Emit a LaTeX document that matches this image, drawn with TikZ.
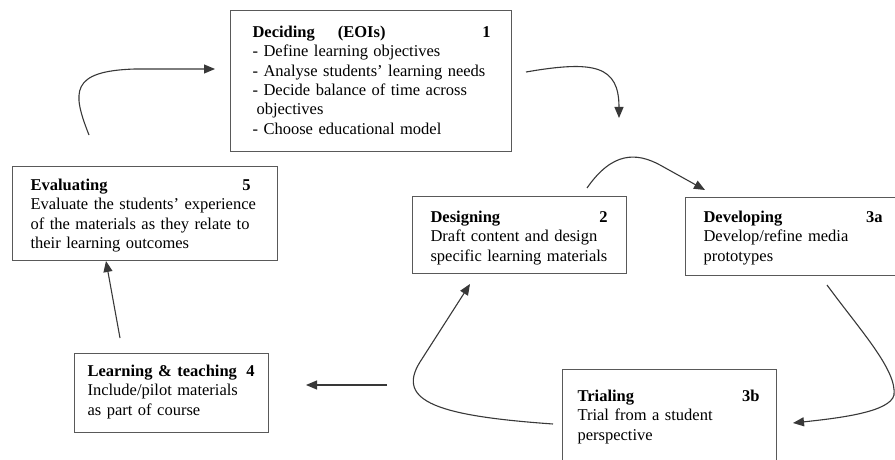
\documentclass[tikz,border=0pt]{standalone}
\usepackage{fontspec}
\setmainfont{Liberation Serif}
\usetikzlibrary{calc,arrows.meta,positioning}

\begin{document}
\begin{tikzpicture}[x=1pt,y=-1pt,
  stage/.style={draw=black!65,line width=1.1pt,anchor=north west,align=left,inner sep=0pt,font=\fontsize{16.5}{19.3}\selectfont},
  flow/.style={draw=black!78,line width=1.1pt,-{Triangle[length=11pt,width=9pt]}}]

  \clip (0,0) rectangle (895,460);

  % Stages
  \path (230,10)  node[stage,text width=281pt,text height=27pt,text depth=114pt] (deciding)
    {\leftskip=22pt\relax
     \textbf{Deciding}\hspace{23pt}\textbf{(EOIs)}\hfill\textbf{1}\hspace{21pt}\null\\
     - Define learning objectives\\
     - Analyse students' learning needs\\
     - Decide balance of time across\\
     \hspace*{4pt}objectives\\
     - Choose educational model\par};
  \path (12,166)  node[stage,text width=265pt,text height=24pt,text depth=70pt] (evaluating)
    {\leftskip=18pt\relax
     \textbf{Evaluating}\hfill\textbf{5}\hspace{27pt}\null\\
     Evaluate the students' experience\\
     of the materials as they relate to\\
     their learning outcomes\par};
  \path (412,196) node[stage,text width=214pt,text height=26pt,text depth=51pt] (designing)
    {\leftskip=18pt\relax
     \textbf{Designing}\hfill\textbf{2}\hspace{19pt}\null\\
     Draft content and design\\
     specific learning materials\par};
  \path (685,197) node[stage,text width=215pt,text height=25pt,text depth=53pt] (developing)
    {\leftskip=18pt\relax
     \textbf{Developing}\hfill\textbf{3a}\hspace{18pt}\null\\
     Develop/refine media\\
     prototypes\par};
  \path (562,369) node[stage,text width=214pt,text height=32pt,text depth=80pt] (trialing)
    {\leftskip=15pt\relax
     \textbf{Trialing}\hfill\textbf{3b}\hspace{17pt}\null\\
     Trial from a student\\
     perspective\par};
  \path (74,353)  node[stage,text width=194pt,text height=23pt,text depth=56pt] (learning)
    {\leftskip=13pt\relax
     \textbf{Learning \& teaching}\hfill\textbf{4}\hspace{14pt}\null\\
     Include/pilot materials\\
     as part of course\par};

  % Free ends of the cycle arrows
  \coordinate (eval-out)  at (89,135);
  \coordinate (dec-in)    at (215,69);
  \coordinate (dec-out)   at (526,72);
  \coordinate (dec-tip)   at (619,118);
  \coordinate (des-out)   at (587,188);
  \coordinate (dev-in)    at (705,190);
  \coordinate (dev-out)   at (827,285);
  \coordinate (tri-in)    at (793,423);
  \coordinate (tri-out)   at (553,424);
  \coordinate (des-in)    at (470,284);
  \coordinate (learn-tail) at (387,385);
  \coordinate (learn-in)  at (306,385);
  \coordinate (learn-out) at (120,338);
  \coordinate (eval-in)   at (106,261);

  % Cycle
  \draw[flow] (eval-out) .. controls (72,92) and (70,71) .. (135,69) -- (dec-in);
  \draw[flow] (dec-out) .. controls (595,60) and (619,66) .. (dec-tip);
  \draw[flow] (des-out) .. controls (612,152) and (636,152) .. (660,165) -- (dev-in);
  \draw[flow] (dev-out) .. controls (860,330) and (897,370) .. (894,395) .. controls (890,412) and (840,418) .. (tri-in);
  \draw[flow] (tri-out) .. controls (440,416) and (395,402) .. (420,362) -- (des-in);
  \draw[flow] (learn-tail) -- (learn-in);
  \draw[flow] (learn-out) -- (eval-in);

\end{tikzpicture}
\end{document}
